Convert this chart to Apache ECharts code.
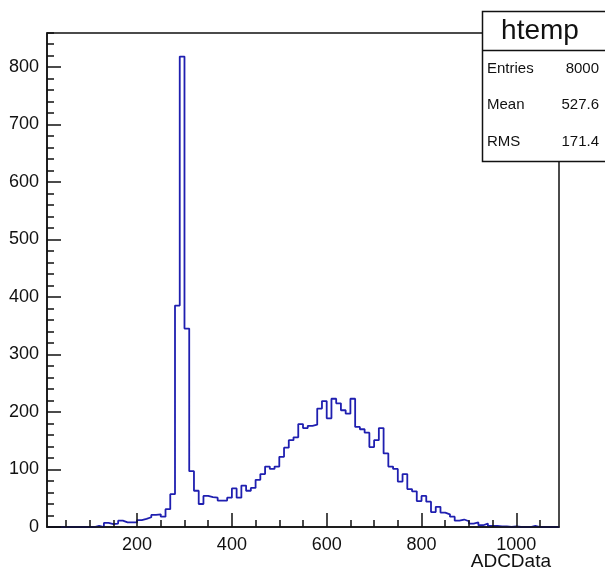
<!DOCTYPE html>
<html><head><meta charset="utf-8">
<script src="https://cdn.jsdelivr.net/npm/echarts@6/dist/echarts.min.js"></script>
<style>html,body{margin:0;padding:0;background:#fff}#c{width:605px;height:572px}</style>
</head><body><div id="c"></div>
<script>
// Histogram binning (ADCData, 108 bins of width 10 from 10 to 1090)
const xMin = 10;
const xMax = 1090;
const binWidth = 10;
const counts = [
  0,0,0,0,0,0,0,0,0,0,
  2,0,7,5,6,11,8,8,8,12,
  14,17,21,22,18,31,57,385,818,345,
  97,63,40,54,52,51,46,46,51,67,
  51,72,63,68,82,92,105,101,105,122,
  138,151,156,179,172,176,178,206,219,189,
  223,215,203,197,223,174,170,164,139,151,
  172,128,105,101,79,92,66,62,45,54,
  44,26,35,25,22,18,11,13,10,6,
  8,3,6,2,2,1,1,0,1,0,
  0,0,2,0,0,0,0,0
];
const xMajorTicks = [200, 400, 600, 800, 1000];
const xMinorTicks = [50,100,150,250,300,350,450,500,550,650,700,750,850,900,950,1050];
const yMin = 0;
const yMax = 859;
const yMajorStep = 100;
const yMinorStep = 20;
const xTitle = 'ADCData';
const statsTitle = 'htemp';
const statsNames = ['Entries', 'Mean', 'RMS'];
const statsValues = ['8000', '527.6', '171.4'];

const stepData = counts.map((c, i) => [xMin + i * binWidth, c]);
stepData.push([xMax, counts[counts.length - 1]]);

const FONT = '"Liberation Sans", Arial, Helvetica, sans-serif';
const chart = echarts.init(document.getElementById('c'), null, {renderer: 'canvas'});
const black = '#111';
const statsY = [69, 105, 142];
const LW = 1.5;

chart.setOption({
  animation: false,
  backgroundColor: '#fff',
  grid: {left: 47, top: 33, width: 512, height: 494, show: true, borderColor: black, borderWidth: LW, backgroundColor: 'transparent'},
  xAxis: [
    {
      type: 'value', min: xMin, max: xMax, position: 'bottom', z: 5,
      axisLine: {show: true, lineStyle: {color: black, width: LW}},
      axisTick: {show: true, inside: true, length: 14, customValues: xMajorTicks, lineStyle: {color: black, width: LW}},
      axisLabel: {show: true, customValues: xMajorTicks, color: black, fontSize: 18, fontFamily: FONT, margin: 9, formatter: v => String(v)},
      splitLine: {show: false}
    },
    {
      type: 'value', min: xMin, max: xMax, position: 'bottom', z: 5,
      axisLine: {show: false},
      axisTick: {show: true, inside: true, length: 7, customValues: xMinorTicks, lineStyle: {color: black, width: LW}},
      axisLabel: {show: false},
      splitLine: {show: false}
    }
  ],
  yAxis: [
    {
      type: 'value', min: yMin, max: yMax, interval: yMajorStep, position: 'left', z: 5,
      axisLine: {show: true, lineStyle: {color: black, width: LW}},
      axisTick: {show: true, inside: true, length: 14, lineStyle: {color: black, width: LW}},
      axisLabel: {show: true, color: black, fontSize: 18, fontFamily: FONT, margin: 8, showMaxLabel: false, formatter: v => String(v)},
      splitLine: {show: false}
    },
    {
      type: 'value', min: yMin, max: yMax, interval: yMinorStep, position: 'left', z: 5,
      axisLine: {show: false},
      axisTick: {show: true, inside: true, length: 7, lineStyle: {color: black, width: LW}},
      axisLabel: {show: false},
      splitLine: {show: false}
    }
  ],
  series: [{
    type: 'line', xAxisIndex: 0, yAxisIndex: 0, step: 'end', symbol: 'none',
    lineStyle: {color: '#1f1fb0', width: 1.8},
    data: stepData, clip: true, z: 1
  }],
  graphic: [
    {type: 'rect', z: 100, shape: {x: 482.5, y: 11.5, width: 140, height: 150}, style: {fill: '#fff', stroke: black, lineWidth: LW}},
    {type: 'line', z: 101, shape: {x1: 482.5, y1: 50.5, x2: 605, y2: 50.5}, style: {stroke: black, lineWidth: LW}},
    {type: 'text', z: 102, x: 540, y: 31, style: {text: statsTitle, font: '28px ' + FONT, fill: black, align: 'center', verticalAlign: 'middle'}},
    ...statsNames.map((n, i) => ({type: 'text', z: 102, x: 487, y: statsY[i], style: {text: n, font: '15px ' + FONT, fill: black, align: 'left', verticalAlign: 'middle'}})),
    ...statsValues.map((v, i) => ({type: 'text', z: 102, x: 599, y: statsY[i], style: {text: v, font: '15px ' + FONT, fill: black, align: 'right', verticalAlign: 'middle'}})),
    {type: 'text', z: 102, x: 551, y: 562, style: {text: xTitle, font: '19px ' + FONT, fill: black, align: 'right', verticalAlign: 'middle'}}
  ]
});
</script>
</body></html>
